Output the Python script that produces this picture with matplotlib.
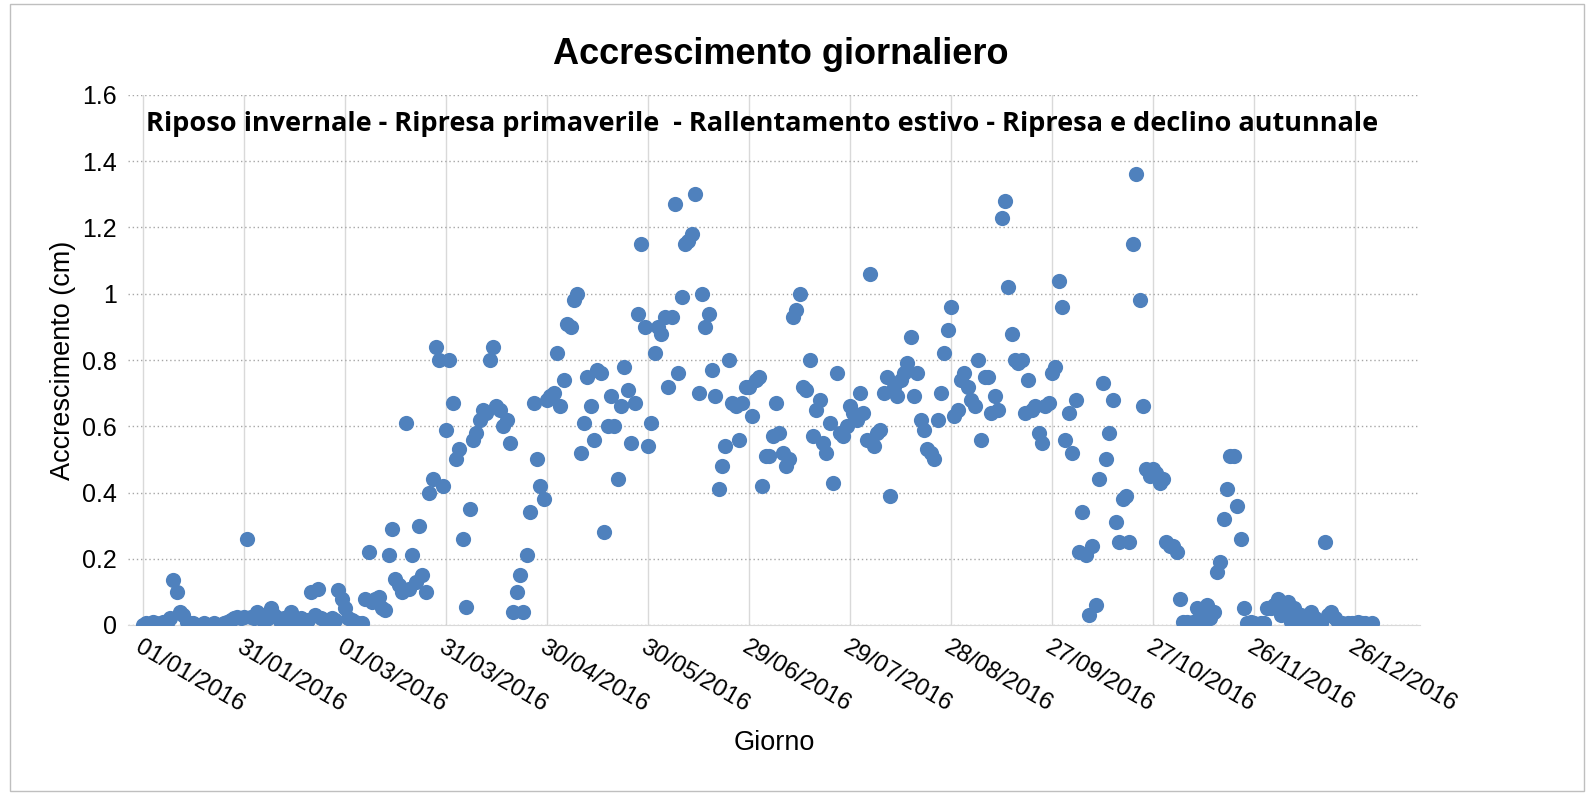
import matplotlib
matplotlib.use("Agg")
import matplotlib.pyplot as plt
import numpy as np
import datetime as dt

jan=[0,0.005,0,0.01,0.005,0,0.01,0.005,0.02,0.135,0.1,0.04,0.03,0.01,0,0.005,0,0,0.005,0,0,0.005,0,0,0.005,0.01,0.015,0.02,0.025,0.02,0.025]
feb=[0.26,0.025,0.02,0.04,0.03,0.01,0.02,0.05,0.03,0.02,0.005,0.02,0.01,0.04,0.005,0.01,0.02,0.01,0.015,0.1,0.03,0.11,0.02,0.015,0.01,0.02,0.015,0.105,0.08]
mar=[0.05,0.02,0.015,0.01,0.005,0.005,0.08,0.22,0.07,0.08,0.085,0.05,0.045,0.21,0.29,0.14,0.12,0.1,0.61,0.11,0.21,0.13,0.3,0.15,0.1,0.4,0.44,0.84,0.8,0.42,0.59]
apr=[0.8,0.67,0.5,0.53,0.26,0.055,0.35,0.56,0.58,0.62,0.65,0.64,0.8,0.84,0.66,0.65,0.6,0.62,0.55,0.04,0.1,0.15,0.04,0.21,0.34,0.67,0.5,0.42,0.38,0.68]
may=[0.69,0.7,0.82,0.66,0.74,0.91,0.9,0.98,1.0,0.52,0.61,0.75,0.66,0.56,0.77,0.76,0.28,0.6,0.69,0.6,0.44,0.66,0.78,0.71,0.55,0.67,0.94,1.15,0.9,0.54,0.61]
jun=[0.82,0.9,0.88,0.93,0.72,0.93,1.27,0.76,0.99,1.15,1.16,1.18,1.3,0.7,1.0,0.9,0.94,0.77,0.69,0.41,0.48,0.54,0.8,0.67,0.66,0.56,0.67,0.72,0.72,0.63]
jul=[0.74,0.75,0.42,0.51,0.51,0.57,0.67,0.58,0.52,0.48,0.5,0.93,0.95,1.0,0.72,0.71,0.8,0.57,0.65,0.68,0.55,0.52,0.61,0.43,0.76,0.58,0.57,0.6,0.66,0.64,0.62]
aug=[0.7,0.64,0.56,1.06,0.54,0.58,0.59,0.7,0.75,0.39,0.72,0.69,0.74,0.76,0.79,0.87,0.69,0.76,0.62,0.59,0.53,0.52,0.5,0.62,0.7,0.82,0.89,0.96,0.63,0.65,0.74]
sep=[0.76,0.72,0.68,0.66,0.8,0.56,0.75,0.75,0.64,0.69,0.65,1.23,1.28,1.02,0.88,0.8,0.79,0.8,0.64,0.74,0.65,0.66,0.58,0.55,0.66,0.67,0.76,0.78,1.04,0.96]
oct_=[0.56,0.64,0.52,0.68,0.22,0.34,0.21,0.03,0.24,0.06,0.44,0.73,0.5,0.58,0.68,0.31,0.25,0.38,0.39,0.25,1.15,1.36,0.98,0.66,0.47,0.45,0.47,0.46,0.43,0.44,0.25]
nov=[0.24,0.24,0.22,0.08,0.01,0.01,0.005,0.01,0.05,0.04,0.005,0.06,0.02,0.04,0.16,0.19,0.32,0.41,0.51,0.51,0.36,0.26,0.05,0.005,0.01,0.005,0,0.005,0.005,0.05]
dec=[0.05,0.06,0.08,0.03,0.04,0.07,0.01,0.05,0.02,0.03,0.01,0.005,0.04,0.02,0,0.005,0.25,0.03,0.04,0.02,0.01,0.005,0,0.005,0.005,0,0.01,0.005,0.005,0,0.005]
values=jan+feb+mar+apr+may+jun+jul+aug+sep+oct_+nov+dec
start=dt.date(2016,1,1)
tick_days=list(range(0,361,30))
tick_labels=[(start+dt.timedelta(days=d)).strftime("%d/%m/%Y") for d in tick_days]

fig=plt.figure(figsize=(15.94,7.99),dpi=100)
fig.patches.append(plt.Rectangle((0.006,0.01),0.988,0.985,transform=fig.transFigure,fill=False,edgecolor="#bfbfbf",lw=1))
ax=fig.add_axes([128/1594,1-625/799,(1420-128)/1594,(625-95)/799])
x=np.arange(len(values))
ax.scatter(x,values,s=120,color="#4f81bd",zorder=3,linewidths=0)
ax.set_xlim(-4.45,379.3)
ax.set_ylim(0,1.6)
ax.set_xticks(tick_days)
ax.set_xticklabels(tick_labels,rotation=-30,ha="left",va="top",rotation_mode="anchor",fontsize=17.5,family="Liberation Sans")
ax.set_yticks(np.arange(0,1.61,0.2))
ax.set_yticklabels(["0","0.2","0.4","0.6","0.8","1","1.2","1.4","1.6"],fontsize=18,family="Liberation Sans")
ax.grid(axis="y",linestyle=(0,(1,2)),color="#a6a6a6",lw=1)
ax.grid(axis="x",linestyle="-",color="#d9d9d9",lw=1)
for s in ["top","right","left"]:
    ax.spines[s].set_visible(False)
ax.spines["bottom"].set_color("#d9d9d9")
ax.tick_params(length=0,pad=8)
ax.set_axisbelow(True)
ax.set_ylabel("Accrescimento (cm)",fontsize=19.5,family="Liberation Sans")
ax.set_xlabel("Giorno",fontsize=19.5,family="Liberation Sans",labelpad=10)
fig.text(0.49,0.932,"Accrescimento giornaliero",ha="center",va="center",fontsize=26,fontweight="bold",family="Liberation Sans")
ax.text(0.014,0.945,"Riposo invernale - Ripresa primaverile  - Rallentamento estivo - Ripresa e declino autunnale",transform=ax.transAxes,fontsize=19.5,fontweight="bold",family="Open Sans",va="center")
fig.savefig("out.png",dpi=100)
